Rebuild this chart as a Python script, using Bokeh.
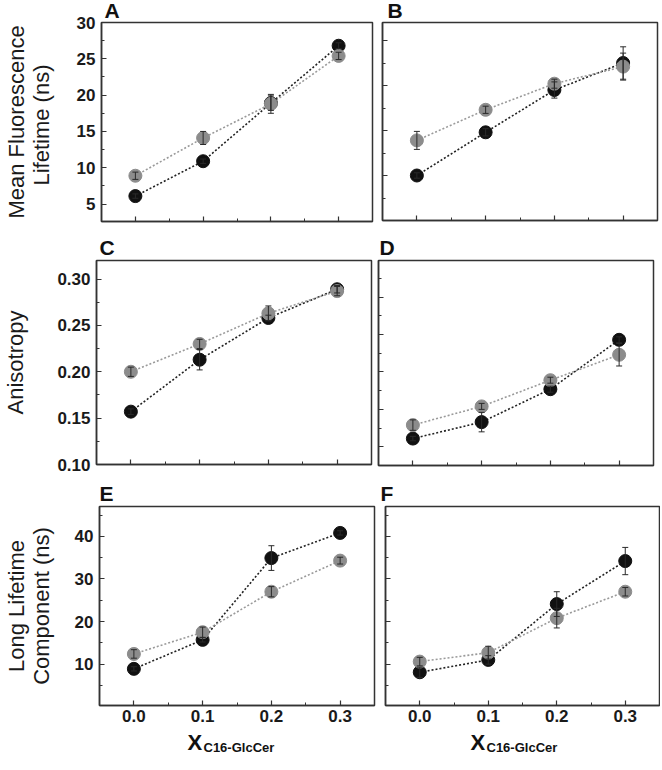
from bokeh.plotting import figure
from bokeh.models import ColumnDataSource, Whisker, TeeHead, Label, FixedTicker, Range1d
from bokeh.layouts import column, row
from bokeh.embed import file_html
from bokeh.resources import INLINE

# ---------------- data ----------------
x_frac = [0.0, 0.1, 0.2, 0.3]
x_major = [0.0, 0.1, 0.2, 0.3]
x_minor = [-0.05, 0.05, 0.15, 0.25, 0.35]
x_tick_labels = ["0.0", "0.1", "0.2", "0.3"]
x_title = "X"
x_title_sub = "C16-GlcCer"

# Panel A: mean fluorescence lifetime (ns)
a_black = [6.1, 10.9, 18.9, 26.8]
a_black_err = [0.3, 0.3, 1.0, 0.4]
a_gray = [8.9, 14.1, 18.8, 25.4]
a_gray_err = [0.5, 0.9, 1.3, 0.5]
a_ticks = [5, 10, 15, 20, 25, 30]
a_tick_labels = ["5", "10", "15", "20", "25", "30"]
a_minor = [2.5, 7.5, 12.5, 17.5, 22.5, 27.5]

# Panel B
b_black = [10.0, 14.8, 19.5, 22.5]
b_black_err = [0.3, 0.4, 0.9, 1.8]
b_gray = [13.9, 17.3, 20.2, 22.1]
b_gray_err = [1.0, 0.4, 0.5, 1.5]
b_ticks = [10, 15, 20, 25]
b_minor = [5, 7.5, 12.5, 17.5, 22.5, 27.5]

# Panel C: anisotropy
c_black = [0.157, 0.213, 0.258, 0.289]
c_black_err = [0.003, 0.011, 0.003, 0.004]
c_gray = [0.200, 0.230, 0.263, 0.287]
c_gray_err = [0.005, 0.005, 0.008, 0.005]
c_ticks = [0.10, 0.15, 0.20, 0.25, 0.30]
c_tick_labels = ["0.10", "0.15", "0.20", "0.25", "0.30"]
c_minor = [0.125, 0.175, 0.225, 0.275, 0.325]

# Panel D
d_black = [0.111, 0.133, 0.177, 0.243]
d_black_err = [0.003, 0.013, 0.004, 0.004]
d_gray = [0.129, 0.154, 0.189, 0.223]
d_gray_err = [0.007, 0.004, 0.004, 0.015]
d_ticks = [0.10, 0.15, 0.20, 0.25, 0.30]
d_minor = [0.075, 0.125, 0.175, 0.225, 0.275, 0.325]

# Panel E: long lifetime component (ns)
e_black = [8.9, 15.7, 34.9, 40.8]
e_black_err = [0.5, 0.5, 2.9, 0.5]
e_gray = [12.4, 17.5, 27.0, 34.3]
e_gray_err = [1.0, 1.2, 1.2, 0.8]
e_ticks = [10, 20, 30, 40]
e_tick_labels = ["10", "20", "30", "40"]
e_minor = [5, 15, 25, 35, 45]

# Panel F
f_black = [8.1, 11.0, 24.1, 34.2]
f_black_err = [1.2, 1.0, 2.9, 3.2]
f_gray = [10.6, 12.7, 20.8, 27.0]
f_gray_err = [1.0, 1.5, 2.3, 1.0]
f_ticks = [10, 20, 30, 40]
f_minor = [5, 15, 25, 35, 45]

# ---------------- styling ----------------
FONT = "Liberation Sans"
BLACK = "#111111"
GRAY = "#8c8c8c"
AXC = "#333333"
TXT = "#111111"
TOTAL_W = 654


def hide_labels(ax):
    ax.major_label_text_font_size = "1px"
    ax.major_label_text_color = None
    ax.major_label_standoff = 0


def style_ylabel(ax, ylabel, standoff):
    ax.axis_label = ylabel
    ax.axis_label_text_font = FONT
    ax.axis_label_text_font_style = "normal"
    ax.axis_label_text_font_size = "22px"
    ax.axis_label_text_color = "#1a1a1a"
    ax.axis_label_standoff = standoff
    ax.axis_label_text_line_height = 1.0


def panel(black, black_err, gray, gray_err, yr, yticks, yminor, ylabels,
          fw, fh, bl, br, bt, bb, ylabel=None, ylabel_standoff=24, xlabels=False):
    p = figure(frame_width=fw, frame_height=fh, min_border_left=bl, min_border_right=br,
               min_border_top=bt, min_border_bottom=bb, output_backend="svg",
               toolbar_location=None, x_range=Range1d(-0.05, 0.35), y_range=yr,
               background_fill_color="white", border_fill_color="white")
    p.grid.visible = False
    p.outline_line_color = AXC
    p.outline_line_width = 1.5
    p.outline_line_alpha = 1.0

    for ax in (p.xaxis[0], p.yaxis[0]):
        ax.axis_line_color = AXC
        ax.axis_line_width = 1.5
        ax.major_tick_line_color = AXC
        ax.minor_tick_line_color = AXC
        ax.major_tick_line_width = 1.2
        ax.minor_tick_line_width = 1.0
        ax.major_tick_in = 5
        ax.major_tick_out = 0
        ax.minor_tick_in = 3
        ax.minor_tick_out = 0
        ax.major_label_text_font = FONT
        ax.major_label_text_font_style = "bold"
        ax.major_label_text_color = "#1a1a1a"

    p.xaxis.ticker = FixedTicker(ticks=x_major, minor_ticks=x_minor)
    p.yaxis.ticker = FixedTicker(ticks=yticks, minor_ticks=yminor)

    if xlabels:
        p.xaxis.major_label_overrides = dict(zip(x_major, x_tick_labels))
        p.xaxis.major_label_text_font_size = "17px"
        p.xaxis.major_label_standoff = 4
    else:
        hide_labels(p.xaxis[0])

    if ylabels is not None:
        p.yaxis.major_label_overrides = dict(zip(yticks, ylabels))
        p.yaxis.major_label_text_font_size = "17px"
        p.yaxis.major_label_standoff = 6
    else:
        hide_labels(p.yaxis[0])

    if ylabel:
        style_ylabel(p.yaxis[0], ylabel, ylabel_standoff)

    srcs = []
    for vals, errs in ((black, black_err), (gray, gray_err)):
        srcs.append(ColumnDataSource(dict(
            x=x_frac, y=vals,
            upper=[v + e for v, e in zip(vals, errs)],
            lower=[v - e for v, e in zip(vals, errs)])))
    for src, lcol in zip(srcs, ("#222222", "#9a9a9a")):
        p.line("x", "y", source=src, line_color=lcol, line_width=1.6, line_dash="2 2")
    for src, col in zip(srcs, (BLACK, GRAY)):
        p.scatter("x", "y", source=src, size=13, fill_color=col, line_color=col)
        w = Whisker(base="x", upper="upper", lower="lower", source=src,
                    line_color="#2a2a2a", line_width=1, level="overlay",
                    upper_head=TeeHead(size=6, line_color="#2a2a2a", line_width=1),
                    lower_head=TeeHead(size=6, line_color="#2a2a2a", line_width=1))
        p.add_layout(w)
    return p


def label_axis_fig(width, yr, yticks, ylabels, fh, bt, bb, ylabel, standoff):
    """Tick labels and title of a y axis, sharing the panel's y range."""
    q = figure(frame_width=1, frame_height=fh, min_border_left=width - 1, min_border_right=0,
               min_border_top=bt, min_border_bottom=bb, output_backend="svg",
               toolbar_location=None, x_range=Range1d(0, 1), y_range=yr)
    q.xaxis.visible = False
    q.grid.visible = False
    q.outline_line_color = None
    ax = q.yaxis[0]
    ax.ticker = FixedTicker(ticks=yticks, minor_ticks=[])
    ax.major_label_overrides = dict(zip(yticks, ylabels))
    ax.axis_line_color = None
    ax.major_tick_line_color = None
    ax.minor_tick_line_color = None
    ax.major_tick_out = 0
    ax.major_tick_in = 0
    ax.minor_tick_out = 0
    ax.major_label_text_font = FONT
    ax.major_label_text_font_style = "bold"
    ax.major_label_text_font_size = "17px"
    ax.major_label_text_color = "#1a1a1a"
    ax.major_label_standoff = 4
    style_ylabel(ax, ylabel, standoff)
    return q


def text_strip(width, height, labels):
    """A bare strip (no axes) holding text labels: (x, y, text, size)."""
    q = figure(width=width, height=height, min_border=0, output_backend="svg",
               toolbar_location=None, x_range=Range1d(0, 1), y_range=Range1d(0, 1))
    q.axis.visible = False
    q.grid.visible = False
    q.outline_line_color = None
    for x, y, t, s in labels:
        q.add_layout(Label(x=x, y=y, x_units="screen", y_units="screen", text=t,
                           text_font=FONT, text_font_style="bold", text_font_size=s,
                           text_color=TXT, text_baseline="bottom", text_align="left"))
    return q


# ---- row 1 (A, B): tick labels of A live in their own strip so "30" is not clipped
a_range = Range1d(2.6, 30.0)
a_axis = label_axis_fig(95, a_range, a_ticks, a_tick_labels, 199, 22, 13,
                        "Mean Fluorescence\nLifetime  (ns)", 20)
strip_a = text_strip(277, 21, [(3, 0, "A", "21px")])
pa = panel(a_black, a_black_err, a_gray, a_gray_err, a_range, a_ticks, a_minor,
           None, 271, 199, 1, 5, 1, 13)
strip_b = text_strip(282, 21, [(5, 0, "B", "21px")])
pb = panel(b_black, b_black_err, b_gray, b_gray_err, Range1d(5.0, 27.0), b_ticks, b_minor,
           None, 275, 198, 5, 2, 1, 14)
row1 = row(a_axis, column(strip_a, pa), column(strip_b, pb))

# ---- row 2 (C, D)
letters2 = text_strip(TOTAL_W, 24, [(99, 0, "C", "21px"), (379, 0, "D", "21px")])
pc = panel(c_black, c_black_err, c_gray, c_gray_err, Range1d(0.10, 0.32), c_ticks, c_minor,
           c_tick_labels, 275, 204, 93, 4, 2, 16,
           ylabel="Anisotropy", ylabel_standoff=26)
pd = panel(d_black, d_black_err, d_gray, d_gray_err, Range1d(0.075, 0.349), d_ticks, d_minor,
           None, 275, 205, 3, 4, 1, 16)

# ---- row 3 (E, F)
letters3 = text_strip(TOTAL_W, 24, [(99, 0, "E", "21px"), (380, 0, "F", "21px")])
pe = panel(e_black, e_black_err, e_gray, e_gray_err, Range1d(0.3, 47.0), e_ticks, e_minor,
           e_tick_labels, 275, 199, 93, 4, 2, 24,
           ylabel="Long Lifetime\nComponent (ns)", ylabel_standoff=18, xlabels=True)
pf = panel(f_black, f_black_err, f_gray, f_gray_err, Range1d(0.3, 47.0), f_ticks, f_minor,
           None, 274, 199, 7, 1, 2, 24, xlabels=True)

xtitles = text_strip(TOTAL_W, 25, [(187, 0, x_title, "22px"), (203, 0, x_title_sub, "13px"),
                                   (470, 0, x_title, "22px"), (486, 0, x_title_sub, "13px")])

layout = column(row1, letters2, row(pc, pd), letters3, row(pe, pf), xtitles)

open("out.html", "w").write(file_html(layout, INLINE))
